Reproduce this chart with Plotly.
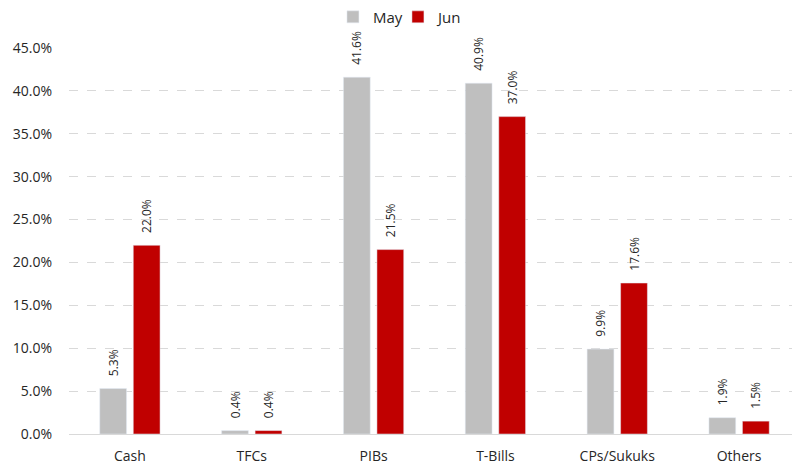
import plotly.graph_objects as go

categories = ['Cash', 'TFCs', 'PIBs', 'T-Bills', 'CPs/Sukuks', 'Others']
may = [5.3, 0.4, 41.6, 40.9, 9.9, 1.9]
jun = [22.0, 0.4, 21.5, 37.0, 17.6, 1.5]

font = 'Open Sans'
pad = '\u00a0' * 3  # lifts the rotated labels a little off the bars


def labels(vals):
    return [f'{pad}{v:.1f}%' for v in vals]


fig = go.Figure()
fig.add_trace(go.Bar(
    x=categories, y=may, name='May', marker_color='#bfbfbf',
    text=labels(may), textposition='outside', textangle=-90,
    textfont=dict(size=12, color='#262626', family=font), cliponaxis=False,
    constraintext='none',
))
fig.add_trace(go.Bar(
    x=categories, y=jun, name='Jun', marker_color='#c00000',
    text=labels(jun), textposition='outside', textangle=-90,
    textfont=dict(size=12, color='#262626', family=font), cliponaxis=False,
    constraintext='none',
))

# page body has an 8px margin, so the figure is a bit smaller than the window
fig.update_layout(
    width=792, height=458,
    barmode='group', bargap=0.45, bargroupgap=0.2,
    paper_bgcolor='white', plot_bgcolor='white',
    margin=dict(l=61, r=0, t=40, b=32, autoexpand=False),
    font=dict(family=font, size=14, color='#262626'),
    legend=dict(orientation='h', x=0.45, xanchor='center', y=1.08, yanchor='middle',
                font=dict(size=15), traceorder='normal', itemwidth=30,
                entrywidth=20, entrywidthmode='pixels', bgcolor='rgba(0,0,0,0)'),
    showlegend=True,
    xaxis=dict(showline=True, linecolor='#d9d9d9', linewidth=1, ticks='',
               tickfont=dict(size=14), ticklabelstandoff=9),
    yaxis=dict(range=[0, 45], dtick=5, ticksuffix='%', tickformat='.1f',
               showgrid=True, gridcolor='#d9d9d9', griddash='dash', zeroline=False,
               tickfont=dict(size=14), ticklabelstandoff=16),
)

fig.write_html("out.html")
